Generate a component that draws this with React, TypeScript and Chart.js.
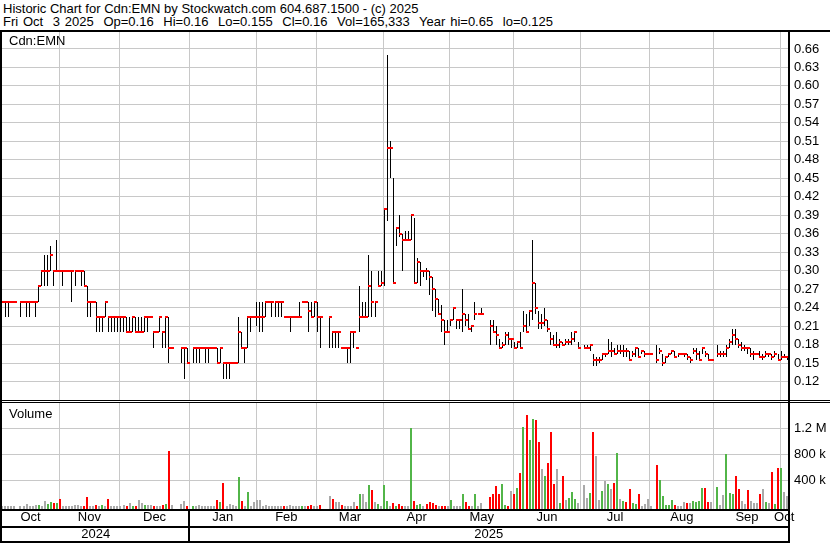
import React, { useEffect, useRef } from 'react';
import { Chart, registerables } from 'chart.js';
Chart.register(...registerables);

const FONT_FAMILY = "'Liberation Sans', Arial, Helvetica, sans-serif";
const GRID = '#c8c8c8';

const headerLine1 = 'Historic Chart for Cdn:EMN by Stockwatch.com 604.687.1500 - (c) 2025';
const headerLine2 = 'Fri Oct  3 2025  Op=0.16  Hi=0.16  Lo=0.155  Cl=0.16  Vol=165,333  Year hi=0.65  lo=0.125';
const symbolLabel = 'Cdn:EMN';
const volumeLabel = 'Volume';

// one entry per weekday slot, null = no trade
const highs: (number | null)[] = [
  0.25,0.25,0.25,0.25,0.25,null,0.25,0.25,0.25,0.25,
  0.25,0.25,0.275,0.30,0.325,0.325,0.34,0.30,0.35,0.30,
  0.30,0.30,0.30,0.30,0.30,0.30,0.30,0.30,0.275,0.25,
  0.25,0.25,0.225,0.225,0.25,0.225,0.225,0.225,0.225,0.225,
  0.225,0.225,0.225,0.225,0.225,0.225,0.225,0.225,0.225,0.225,
  0.20,0.20,0.225,0.20,0.225,0.225,0.175,null,null,0.175,
  0.175,0.175,null,0.175,0.175,0.175,0.175,0.175,0.175,0.175,
  0.175,0.175,0.175,0.15,0.15,0.15,0.15,0.15,0.225,0.20,
  0.175,0.225,0.225,0.225,0.25,0.25,0.25,0.25,0.25,0.25,
  0.25,0.25,0.25,0.225,0.225,0.225,0.225,0.225,0.25,0.25,
  0.25,0.25,0.25,0.25,0.25,0.225,null,null,0.225,0.20,
  0.20,0.20,0.175,0.175,0.175,0.20,0.20,0.175,0.275,0.25,
  0.25,0.325,0.30,0.25,0.30,0.30,0.40,0.65,0.51,0.45,
  0.37,0.39,0.36,0.365,0.365,0.39,0.385,0.32,0.315,0.30,
  0.305,0.30,0.29,0.27,0.255,0.245,0.22,0.22,0.22,0.24,
  0.22,0.22,0.27,0.23,0.23,0.21,0.25,0.23,0.24,null,
  null,0.22,0.22,0.21,0.19,0.185,0.20,0.20,0.19,0.185,
  0.185,0.20,0.235,0.23,0.235,0.35,0.28,0.235,0.23,0.24,
  0.22,0.20,0.195,0.20,0.19,0.185,0.19,0.19,0.20,0.20,
  0.185,null,0.18,0.18,0.18,0.165,0.16,0.16,0.165,0.165,
  0.19,0.185,0.175,0.18,0.18,0.18,0.175,0.17,0.17,0.175,
  0.175,0.17,0.17,0.165,0.165,null,0.18,0.175,0.165,0.16,
  0.165,0.17,0.17,0.165,0.165,0.165,0.165,0.16,0.175,0.175,
  0.17,0.175,0.17,0.165,0.155,null,0.18,0.17,0.17,0.18,
  0.19,0.205,0.205,0.19,0.185,0.18,0.175,0.175,0.17,0.165,
  0.17,0.165,0.17,0.165,0.165,0.17,0.165,0.17,0.165,0.16,
];

const lows: (number | null)[] = [
  0.25,0.225,0.225,0.25,0.25,null,0.225,0.25,0.225,0.225,
  0.25,0.225,0.25,0.275,0.275,0.275,0.30,0.275,0.30,0.30,
  0.275,0.30,0.30,0.25,0.275,0.30,0.275,0.275,0.225,0.225,
  0.25,0.20,0.20,0.20,0.225,0.20,0.20,0.20,0.20,0.20,
  0.20,0.20,0.20,0.20,0.20,0.20,0.20,0.20,0.20,0.225,
  0.175,0.20,0.20,0.175,0.175,0.15,0.175,null,null,0.15,
  0.125,0.15,null,0.15,0.15,0.15,0.175,0.15,0.15,0.175,
  0.175,0.15,0.15,0.125,0.125,0.125,0.15,0.15,0.15,0.175,
  0.15,0.175,0.20,0.225,0.21,0.20,0.20,0.225,0.25,0.225,
  0.225,0.225,0.225,0.225,0.225,0.20,0.225,0.225,0.225,0.25,
  0.25,0.20,0.225,0.225,0.20,0.175,null,null,0.175,0.175,
  0.175,0.175,0.175,0.175,0.15,0.15,0.175,0.175,0.20,0.225,
  0.225,0.225,0.225,0.225,0.275,0.275,0.275,0.38,0.45,0.28,
  0.34,0.355,0.30,0.35,0.35,0.35,0.28,0.28,0.275,0.29,
  0.285,0.26,0.235,0.225,0.23,0.20,0.18,0.20,0.21,0.22,
  0.205,0.205,0.20,0.21,0.205,0.20,0.22,0.23,0.23,null,
  null,0.18,0.20,0.18,0.175,0.175,0.18,0.18,0.175,0.175,
  0.175,0.175,0.20,0.20,0.21,0.22,0.23,0.205,0.205,0.21,
  0.20,0.18,0.18,0.175,0.175,0.18,0.18,0.18,0.18,0.185,
  0.175,null,0.175,0.175,0.17,0.145,0.145,0.15,0.155,0.16,
  0.165,0.16,0.165,0.165,0.165,0.16,0.16,0.155,0.16,0.16,
  0.16,0.165,0.16,0.165,0.165,null,0.15,0.165,0.145,0.15,
  0.16,0.165,0.16,0.16,0.165,0.16,0.155,0.15,0.165,0.155,
  0.155,0.165,0.16,0.155,0.155,null,0.16,0.16,0.16,0.16,
  0.175,0.18,0.18,0.175,0.17,0.17,0.165,0.16,0.155,0.165,
  0.16,0.155,0.16,0.16,0.155,0.16,0.155,0.155,0.16,0.155,
];

const closes: (number | null)[] = [
  0.25,0.25,0.25,0.25,0.25,null,0.25,0.25,0.25,0.25,
  0.25,0.25,0.275,0.30,0.30,0.30,0.325,0.30,0.30,0.30,
  0.30,0.30,0.30,0.30,0.30,0.30,0.30,0.275,0.25,0.25,
  0.25,0.225,0.225,0.225,0.25,0.225,0.225,0.225,0.225,0.225,
  0.225,0.20,0.20,0.225,0.20,0.20,0.20,0.225,0.225,0.225,
  0.20,0.20,0.225,0.20,0.225,0.175,0.175,null,null,0.175,
  0.175,0.15,null,0.175,0.175,0.175,0.175,0.175,0.175,0.175,
  0.175,0.15,0.175,0.15,0.15,0.15,0.15,0.15,0.20,0.175,
  0.175,0.225,0.225,0.225,0.225,0.225,0.225,0.25,0.25,0.25,
  0.25,0.25,0.25,0.225,0.225,0.225,0.225,0.225,0.225,0.25,
  0.25,0.235,0.225,0.25,0.225,0.225,null,null,0.225,0.20,
  0.20,0.20,0.175,0.175,0.175,0.20,0.20,0.175,0.225,0.225,
  0.225,0.275,0.25,0.25,0.275,0.28,0.40,0.50,0.50,0.28,
  0.37,0.36,0.35,0.35,0.35,0.39,0.28,0.315,0.30,0.30,
  0.30,0.29,0.27,0.255,0.23,0.22,0.20,0.20,0.22,0.24,
  0.22,0.22,0.23,0.22,0.205,0.21,0.23,0.23,0.23,null,
  null,0.21,0.20,0.195,0.175,0.18,0.195,0.19,0.19,0.175,
  0.185,0.175,0.21,0.20,0.235,0.28,0.24,0.215,0.215,0.22,
  0.205,0.19,0.18,0.18,0.185,0.18,0.185,0.185,0.19,0.20,
  0.175,null,0.175,0.175,0.18,0.155,0.155,0.155,0.165,0.165,
  0.17,0.17,0.165,0.17,0.17,0.17,0.17,0.155,0.165,0.175,
  0.16,0.17,0.165,0.165,0.165,null,0.155,0.17,0.15,0.16,
  0.165,0.17,0.16,0.165,0.165,0.165,0.16,0.155,0.17,0.165,
  0.155,0.175,0.165,0.155,0.155,null,0.165,0.165,0.165,0.175,
  0.185,0.195,0.19,0.18,0.175,0.175,0.175,0.165,0.165,0.165,
  0.16,0.16,0.165,0.165,0.16,0.165,0.155,0.16,0.16,0.16,
];

// daily volume in thousands of shares
const volumesK: (number | null)[] = [
  8,8,5,3,5,null,5,5,35,5,
  5,15,15,5,80,30,60,55,55,110,
  5,5,8,12,15,15,10,5,140,8,
  5,20,5,15,10,110,5,8,5,5,
  20,5,50,5,2,90,50,25,15,20,
  5,5,5,15,35,850,15,null,null,35,
  80,5,null,5,2,15,5,10,10,5,
  5,100,65,360,5,35,20,5,450,80,
  5,220,5,65,95,95,5,15,5,5,
  5,5,5,5,5,15,10,5,5,5,
  5,10,20,5,8,20,null,null,160,110,
  60,65,25,5,5,5,65,5,190,190,
  65,330,250,65,35,5,330,80,5,50,
  5,35,5,5,5,1200,80,15,35,2,
  35,65,50,20,5,5,5,5,100,5,
  3,5,190,65,5,3,190,5,50,null,
  null,140,190,310,190,340,20,5,235,190,
  280,510,1220,1400,1020,1340,1330,985,575,465,
  665,1140,345,575,50,465,100,130,220,115,
  50,null,330,130,205,1140,775,100,235,390,
  340,265,360,815,115,80,65,265,50,35,
  190,5,35,110,5,null,635,405,160,20,
  20,100,20,3,5,65,50,50,80,65,
  80,280,280,65,65,null,300,20,175,800,
  205,190,465,265,80,35,250,80,50,50,
  190,265,65,50,530,35,590,590,220,165,
];

// u = up day, d = down day, n = unchanged, - = no trade
const volumeDirection =
  'nnnnn-nnnn' + 'nnunnuudud' + 'nnnnnnnddn' + 'ndnundnnnn' + 'ndnudnnunn' +
  'dnndudn--n' + 'nd-unnnnnn' + 'ndudnnnnud' + 'nunnnnnnnn' + 'nnndnnnnnu' +
  'nddnnd--nd' + 'nndnnnndun' + 'nudnunuund' + 'uddnnuduun' + 'ddddnddnun' +
  'nnuddnunn-' + '-dddduudnd' + 'ududuuddnu' + 'dddnudnuuu' + 'n-nnudnnun' +
  'undunudduu' + 'dnnnn-duuu' + 'uudnnndnuu' + 'uuddn-unnu' + 'uuddnndnnn' +
  'dnundudunn';

const monthLabels = ['Oct', 'Nov', 'Dec', 'Jan', 'Feb', 'Mar', 'Apr', 'May', 'Jun', 'Jul', 'Aug', 'Sep', 'Oct'];
const monthStartSlots = [19, 39, 62, 84, 104, 126, 148, 169, 191, 214, 235, 257];
const yearLabels = ['2024', '2025'];
const yearStartMonth = 2; // index into monthStartSlots (Jan 2025)

const priceTicks = [0.12, 0.15, 0.18, 0.21, 0.24, 0.27, 0.30, 0.33, 0.36, 0.39, 0.42, 0.45, 0.48, 0.51, 0.54, 0.57, 0.60, 0.63, 0.66];
const volumeTicks = [400000, 800000, 1200000];
const volumeTickLabels = ['400 k', '800 k', '1.2 M'];

const X_MIN = -0.1;
const X_MAX = 259.3;
const GRID_SHIFT = -0.25;
const PRICE_MIN = 0.0903;
const PRICE_MAX = 0.6875;
const VOL_MIN = -41500;
const VOL_MAX = 1589000;

const UP = '#52b548';
const DOWN = '#ff0000';
const FLAT = '#aaaaaa';

const monthBoundaries = monthStartSlots.map((s) => s + GRID_SHIFT);
const monthEdges = [X_MIN, ...monthBoundaries, X_MAX];
const monthMids = monthEdges.slice(0, -1).map((e, i) => (e + monthEdges[i + 1]) / 2);
const yearBoundary = monthBoundaries[yearStartMonth];
const yearEdges = [X_MIN, yearBoundary, X_MAX];
const yearMids = [(yearEdges[0] + yearEdges[1]) / 2, (yearEdges[1] + yearEdges[2]) / 2];

const font = { family: FONT_FAMILY, size: 13 };

const noPadding = (s: any) => {
  s.paddingTop = 0;
  s.paddingBottom = 0;
  s.paddingLeft = 0;
  s.paddingRight = 0;
};

function gridAxis(weight: number) {
  return {
    type: 'linear',
    position: 'bottom',
    weight,
    min: X_MIN,
    max: X_MAX,
    offset: false,
    afterBuildTicks: (s: any) => {
      s.ticks = monthBoundaries.map((v) => ({ value: v }));
    },
    afterFit: (s: any) => {
      s.height = 0;
      noPadding(s);
    },
    ticks: { display: false },
    grid: { color: GRID, lineWidth: 1, drawTicks: false, offset: false },
    border: { display: false },
  };
}

function labelAxis(weight: number, mids: number[], labels: string[], height: number, padding: number) {
  return {
    type: 'linear',
    position: 'bottom',
    weight,
    min: X_MIN,
    max: X_MAX,
    offset: false,
    afterBuildTicks: (s: any) => {
      s.ticks = mids.map((v) => ({ value: v }));
    },
    afterFit: (s: any) => {
      s.height = height;
      noPadding(s);
    },
    ticks: {
      autoSkip: false,
      maxRotation: 0,
      minRotation: 0,
      color: '#000',
      font,
      padding,
      callback: (_v: any, i: number) => labels[i],
    },
    grid: { display: false, drawTicks: false },
    border: { display: false },
  };
}

function valueAxis(min: number, max: number, ticks: number[], label: (v: number, i: number) => string) {
  return {
    type: 'linear',
    position: 'right',
    min,
    max,
    afterBuildTicks: (s: any) => {
      s.ticks = ticks.map((v) => ({ value: v }));
    },
    afterFit: (s: any) => {
      s.width = 42;
      noPadding(s);
    },
    ticks: {
      autoSkip: false,
      color: '#000',
      font,
      padding: 6,
      callback: (v: any, i: number) => label(Number(v), i),
    },
    grid: { color: GRID, lineWidth: 1, drawTicks: false },
    border: { display: false },
  };
}

// snaps the scale-computed element positions to whole device pixels so the
// 1px high-low lines, the 3px close ticks and the 2px volume bars stay crisp
const pixelSnap = {
  id: 'pixelSnap',
  beforeDatasetsDraw(chart: any) {
    const xs = chart.scales.x;
    const ys = chart.scales.y;
    chart.data.datasets.forEach((ds: any, di: number) => {
      const meta = chart.getDatasetMeta(di);
      meta.data.forEach((el: any, idx: number) => {
        const d = ds.data[idx];
        const px = xs.getPixelForValue(d.x);
        if (meta.type === 'bar') {
          const thick = ds.barThickness;
          el.x = thick % 2 === 1 ? Math.floor(px) + 0.5 : Math.round(px);
          if (Array.isArray(d.y)) {
            el.y = Math.round(ys.getPixelForValue(d.y[1]));
            el.base = Math.round(ys.getPixelForValue(d.y[0]));
          } else {
            el.y = Math.round(ys.getPixelForValue(d.y));
            el.base = Math.round(el.base);
          }
        } else {
          el.x = Math.floor(px) + 1.5;
          el.y = Math.round(ys.getPixelForValue(d.y));
        }
      });
    });
  },
};

const yearSeparator = {
  id: 'yearSeparator',
  afterDraw(chart: any) {
    const xs = chart.scales.x;
    const px = Math.round(xs.getPixelForValue(yearBoundary));
    const ctx = chart.ctx;
    ctx.save();
    ctx.fillStyle = '#000';
    ctx.fillRect(px - 1, chart.chartArea.bottom, 2, chart.height - chart.chartArea.bottom);
    ctx.restore();
  },
};

export default function App() {
  const priceRef = useRef<HTMLCanvasElement>(null);
  const volRef = useRef<HTMLCanvasElement>(null);

  useEffect(() => {
    const hlData: any[] = [];
    const closeData: any[] = [];
    const volData: any[] = [];
    const volColors: string[] = [];
    for (let i = 0; i < highs.length; i++) {
      const h = highs[i];
      const l = lows[i];
      const c = closes[i];
      if (h != null && l != null && c != null) {
        hlData.push({ x: i, y: [l, h] });
        closeData.push({ x: i, y: c });
      }
      const v = volumesK[i];
      if (v != null) {
        volData.push({ x: i, y: v * 1000 });
        const d = volumeDirection[i];
        volColors.push(d === 'u' ? UP : d === 'd' ? DOWN : FLAT);
      }
    }

    const common = {
      responsive: false,
      animation: false,
      devicePixelRatio: 1,
      events: [],
      plugins: { legend: { display: false }, tooltip: { enabled: false }, title: { display: false } },
    };

    const price = new Chart(priceRef.current as HTMLCanvasElement, {
      type: 'bar',
      data: {
        datasets: [
          {
            type: 'bar',
            order: 1,
            data: hlData,
            backgroundColor: '#000',
            borderWidth: 0,
            barThickness: 1,
            inflateAmount: 0,
            grouped: false,
          } as any,
          {
            type: 'scatter',
            order: 0,
            data: closeData,
            showLine: false,
            pointStyle: 'line',
            pointRadius: 1.5,
            pointHoverRadius: 1.5,
            pointBorderWidth: 2,
            pointBorderColor: '#ff0000',
            pointBackgroundColor: '#ff0000',
          } as any,
        ],
      },
      options: {
        ...common,
        layout: { padding: { left: 2, right: 0, top: 0, bottom: 0 }, autoPadding: false },
        scales: {
          x: gridAxis(0),
          y: valueAxis(PRICE_MIN, PRICE_MAX, priceTicks, (v) => v.toFixed(2)),
        },
      } as any,
      plugins: [pixelSnap],
    });

    const volume = new Chart(volRef.current as HTMLCanvasElement, {
      type: 'bar',
      data: {
        datasets: [
          {
            type: 'bar',
            data: volData,
            backgroundColor: volColors,
            borderWidth: 0,
            barThickness: 2,
            inflateAmount: 0,
            base: VOL_MIN,
            grouped: false,
          } as any,
        ],
      },
      options: {
        ...common,
        layout: { padding: { left: 2, right: 0, top: 0, bottom: 2 }, autoPadding: false },
        scales: {
          x: gridAxis(0),
          xm: labelAxis(1, monthMids, monthLabels, 17, 1),
          xy: labelAxis(2, yearMids, yearLabels, 15, 1),
          y: valueAxis(VOL_MIN, VOL_MAX, volumeTicks, (_v, i) => volumeTickLabels[i]),
        },
      } as any,
      plugins: [pixelSnap, yearSeparator],
    });

    return () => {
      price.destroy();
      volume.destroy();
    };
  }, []);

  const line = (left: number, top: number, width: number, height: number) => (
    <div style={{ position: 'absolute', left, top, width, height, background: '#000', pointerEvents: 'none' }} />
  );

  const textStyle: React.CSSProperties = {
    position: 'absolute',
    fontFamily: FONT_FAMILY,
    fontSize: 13,
    lineHeight: '13px',
    color: '#000',
    whiteSpace: 'pre',
  };

  return (
    <div style={{ position: 'fixed', left: 0, top: 0, width: 830, height: 543, background: '#fff', overflow: 'hidden' }}>
      <div style={{ ...textStyle, left: 3, top: 2 }}>{headerLine1}</div>
      <div style={{ ...textStyle, left: 3, top: 15, wordSpacing: '1.2px' }}>{headerLine2}</div>
      <canvas ref={priceRef} width={830} height={368} style={{ position: 'absolute', left: 0, top: 32, width: 830, height: 368 }} />
      <canvas ref={volRef} width={830} height={140} style={{ position: 'absolute', left: 0, top: 403, width: 830, height: 140 }} />
      <div style={{ ...textStyle, left: 9, top: 34 }}>{symbolLabel}</div>
      <div style={{ ...textStyle, left: 9, top: 407 }}>{volumeLabel}</div>
      {line(0, 30, 830, 2)}
      {line(0, 30, 2, 513)}
      {line(788, 30, 2, 513)}
      {line(0, 400, 830, 1)}
      {line(0, 402, 830, 1)}
      {line(0, 509, 790, 2)}
      {line(0, 526, 790, 2)}
      {line(0, 541, 790, 2)}
    </div>
  );
}
